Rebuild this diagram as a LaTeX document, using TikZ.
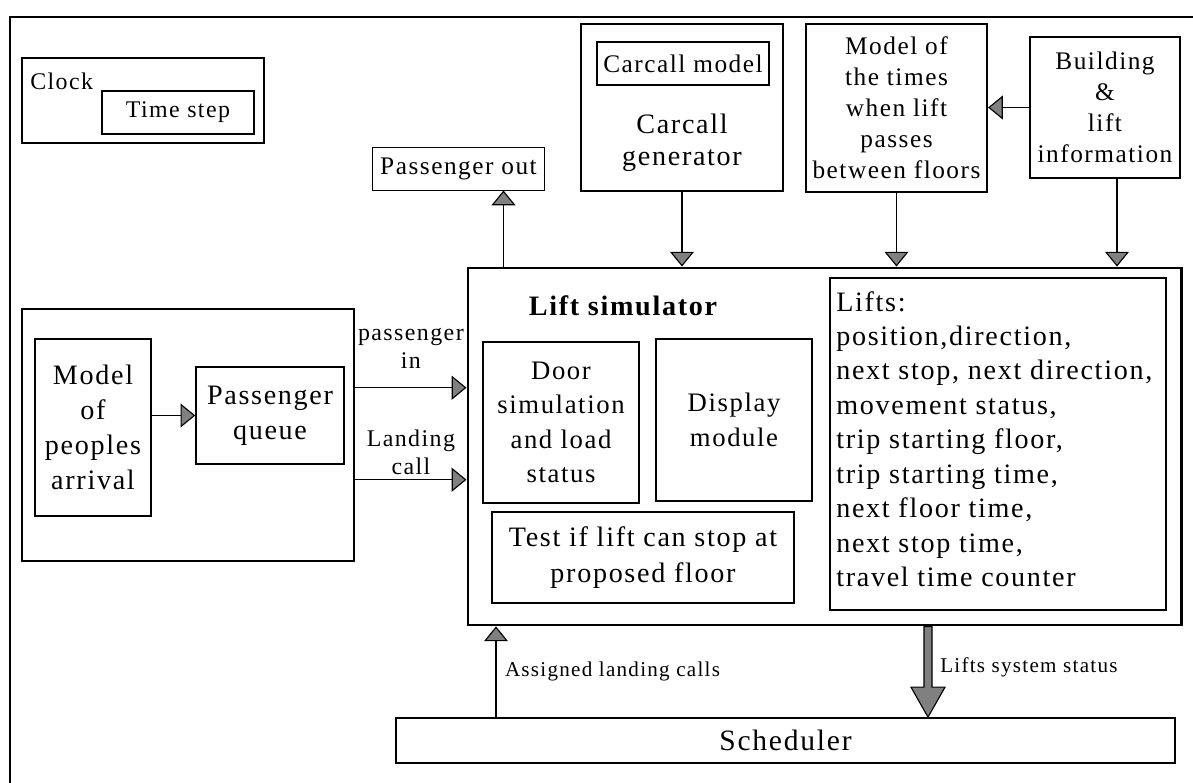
\documentclass[tikz,border=0pt]{standalone}
\usepackage{fontspec}
\setmainfont[LetterSpace=6]{Liberation Serif}
\usetikzlibrary{arrows.meta,calc}

\begin{document}
\begin{tikzpicture}[x=0.025cm, y=-0.025cm,
  box/.style = {draw, inner sep=0pt, align=center, line width=1.1pt},
  lbl/.style = {inner sep=0pt, align=center},
  big/.style = {font=\fontsize{20}{25}\selectfont},
  mid/.style = {font=\fontsize{19}{24.5}\selectfont},
  small/.style = {font=\fontsize{18}{22}\selectfont},
  tiny/.style = {font=\fontsize{17}{20}\selectfont},
  note/.style = {font=\fontsize{15}{18}\selectfont},
  arr/.style = {-{Triangle[length=10.5pt, width=17pt, fill=gray]}, line width=0.8pt}]
\useasboundingbox (0,0) rectangle (1193,783);
\draw[line width=1.2pt] (1193,17) -- (10,17) -- (10,783);

% clock
\node[box, line width=1.5pt, minimum width=6.05cm, minimum height=2.125cm] (clock) at (143,100.5) {};
\node[lbl, tiny, anchor=base west] (clocklbl) at (30,89) {Clock};
\node[box, tiny, line width=0.8pt, minimum width=3.8cm, minimum height=1.075cm] (tstep) at (178,112.5) {Time step};

% top row
\node[box, small, line width=0.7pt, minimum width=4.275cm, minimum height=1.075cm] (pout) at (458.5,168.5) {Passenger out};
\node[box, line width=1.6pt, minimum width=5.05cm, minimum height=4.175cm] (cgen) at (682,107.5) {};
\node[box, small, line width=0.9pt, minimum width=4.3cm, minimum height=1.075cm] (cmodel) at (683,63.5) {Carcall model};
\node[lbl, font=\fontsize{20}{23}\selectfont] (cgenlbl) at (682,143) {Carcall\\generator};
\node[box, small, line width=1.5pt, minimum width=4.525cm, minimum height=4.2cm] (times) at (896.5,108)
  {Model of\\the times\\when lift\\passes\\between floors};
\node[box, small, line width=1.2pt, minimum width=3.75cm, minimum height=3.525cm] (build) at (1105,107.5)
  {Building\\\&\\lift\\information};

% lift simulator
\node[box, line width=2pt, minimum width=17.825cm, minimum height=8.925cm] (sim) at (824.5,446.5) {};
\node[lbl, font=\bfseries\fontsize{20}{22}\selectfont, anchor=base] (simlbl) at (623,315) {Lift simulator};
\node[box, mid, line width=1.2pt, minimum width=3.9cm, minimum height=4.025cm] (door) at (561,422.5)
  {Door\\simulation\\and load\\status};
\node[box, mid, line width=1.2pt, minimum width=3.9cm, minimum height=4.05cm] (disp) at (734,420)
  {Display\\module};
\node[box, font=\fontsize{20}{26}\selectfont, line width=1.2pt, minimum width=7.55cm, minimum height=2.275cm] (test) at (643,557.5)
  {Test if lift can stop at\\proposed floor};
\node[box, line width=1.5pt, minimum width=8.4cm, minimum height=8.3cm] (lifts) at (998,444) {};
\node[lbl, align=left, anchor=north west, font=\fontsize{20}{24.5}\selectfont] (liftslbl) at (836,291)
  {Lifts:\\position,direction,\\next stop, next direction,\\movement status,\\trip starting floor,\\trip starting time,\\next floor time,\\next stop time,\\travel time counter};

% passengers
\node[box, line width=1.8pt, minimum width=8.3cm, minimum height=6.3cm] (grp) at (188,435) {};
\node[box, big, line width=1pt, minimum width=2.9cm, minimum height=4.425cm] (model) at (93,427.5)
  {Model\\of\\peoples\\arrival};
\node[box, big, line width=1pt, minimum width=3.7cm, minimum height=2.425cm] (queue) at (270,415.5)
  {Passenger\\queue};

% scheduler
\node[box, font=\fontsize{21}{24}\selectfont, line width=1.2pt, minimum width=19.475cm, minimum height=1.125cm] (sched) at (785.5,740.5) {Scheduler};

% connectors
\draw[arr] (model.east |- queue.west) -- (queue.west);
\coordinate (pin) at ($(grp.north east)+(0,80)$);
\coordinate (lcall) at ($(grp.north east)+(0,172)$);
\draw[arr] (pin) -- (pin -| sim.west) node[lbl, tiny, midway, above=13pt] {passenger\\in};
\draw[arr] (lcall) -- (lcall -| sim.west) node[lbl, tiny, midway, above=3pt] {Landing\\call};
\coordinate (po) at ($(pout.south)+(45,0)$);
\draw[arr] (po |- sim.north) -- (po);
\draw[arr] (cgen.south) -- (cgen.south |- sim.north);
\draw[arr] (times.south) -- (times.south |- sim.north);
\coordinate (bs) at ($(build.south)+(12,0)$);
\draw[arr] (bs) -- (bs |- sim.north);
\draw[arr] (build.west) -- (build.west -| times.east);
\coordinate (al) at (496,0);
\draw[arr] (sched.north -| al) -- (sim.south -| al) node[lbl, note, midway, right=6pt] {Assigned landing calls};
\coordinate (ls) at (928,0);
\coordinate (lsA) at (sim.south -| ls);
\coordinate (lsB) at (sched.north -| ls);
\filldraw[fill=gray, line width=0.8pt] ($(lsA)+(-4,0)$) -- ($(lsB)+(-4,-30)$) -- ($(lsB)+(-17,-30)$) -- (lsB)
  -- ($(lsB)+(17,-30)$) -- ($(lsB)+(4,-30)$) -- ($(lsA)+(4,0)$) -- cycle;
\node[lbl, note, anchor=west] (lsslbl) at ($(lsA)!0.45!(lsB)+(12,0)$) {Lifts system status};
\end{tikzpicture}
\end{document}
